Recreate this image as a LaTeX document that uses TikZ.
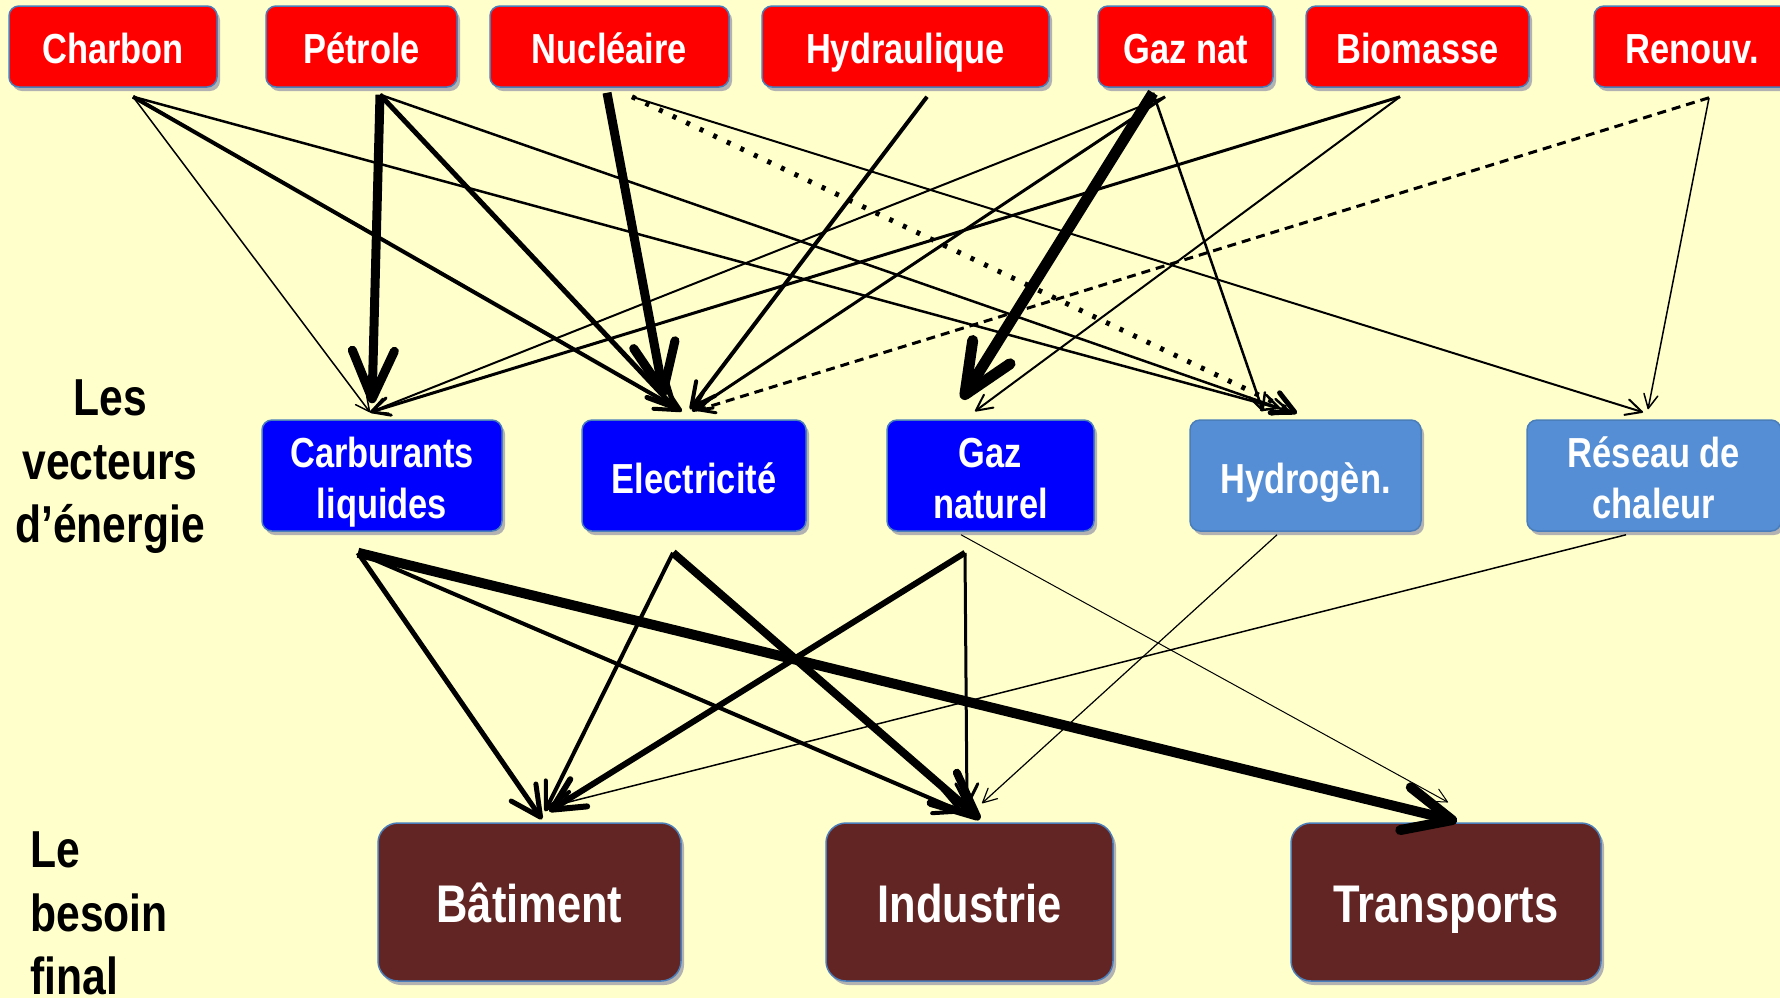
\documentclass[tikz,border=0pt]{standalone}
\usepackage{fontspec}
\setmainfont{Liberation Sans}[FakeStretch=0.82]
\usetikzlibrary{arrows.meta,calc}
\definecolor{bgyellow}{HTML}{FFFFCC}
\definecolor{srcred}{HTML}{FF0000}
\definecolor{vecblue}{HTML}{0000FF}
\definecolor{veclight}{HTML}{558ED5}
\definecolor{needbrown}{HTML}{632523}
\definecolor{edgeblue}{HTML}{4A7EBB}
\begin{document}
\begin{tikzpicture}[x=0.5pt,y=-0.5pt,
  box/.style={draw=edgeblue, line width=0.75pt, rounded corners=5pt, text=white, align=center, inner sep=0pt,
     preaction={fill=black!30, transform canvas={shift={(1.5pt,-2pt)}}}},
  src/.style={box, fill=srcred, minimum height=40.5pt, text height=16.5pt, text depth=0pt,
     font=\bfseries\fontsize{21}{25}\selectfont},
  vec/.style={box, fill=vecblue, minimum height=55.5pt, text height=17.5pt, text depth=0pt,
     font=\bfseries\fontsize{21}{25.5}\selectfont},
  vectwo/.style={text height=42.5pt, text depth=0pt},
  veclt/.style={vec, fill=veclight},
  need/.style={box, fill=needbrown, rounded corners=10pt, minimum height=79pt, text height=20pt, text depth=0pt,
     font=\bfseries\fontsize{26.5}{30}\selectfont},
  lbl/.style={font=\bfseries\fontsize{26}{31.75}\selectfont, inner sep=0pt},
  arr/.style n args={2}{line width=#1, -{Straight Barb[length=#2, width=#2, round]}},
  bigarr/.style n args={3}{line width=#1, -{Straight Barb[length=#2, width=#3, round]}},
]
\useasboundingbox (0,0) rectangle (1780,998);
\clip (0,0) rectangle (1780,998);
\fill[bgyellow] (0,0) rectangle (1780,998);

% sources
\node[src, minimum width=104pt] (charbon) at (113,46.5) {Charbon};
\node[src, minimum width=95.5pt] (petrole) at (361.5,46.5) {Pétrole};
\node[src, minimum width=119.5pt] (nucleaire) at (609.5,46.5) {Nucléaire};
\node[src, minimum width=143.5pt] (hydraulique) at (905.5,46.5) {Hydraulique};
\node[src, minimum width=87.5pt] (gaznat) at (1185.5,46.5) {Gaz nat};
\node[src, minimum width=111.5pt] (biomasse) at (1417.5,46.5) {Biomasse};
\node[src, minimum width=98pt] (renouv) at (1692,46.5) {Renouv.};

% vecteurs
\node[vec, vectwo, minimum width=120pt] (carb) at (382,475.5) {Carburants\\liquides};
\node[vec, minimum width=112pt] (elec) at (694,475.5) {Electricité};
\node[vec, vectwo, minimum width=103.5pt] (gn) at (990.5,475.5) {Gaz\\naturel};
\node[veclt, minimum width=115.5pt] (hyd) at (1305.5,475.5) {Hydrogèn.};
\node[veclt, vectwo, minimum width=127pt] (res) at (1654,475.5) {Réseau de\\chaleur};

% besoins
\node[need, minimum width=151.5pt] (bat) at (529.5,902) {Bâtiment};
\node[need, minimum width=143.5pt] (ind) at (969.5,902) {Industrie};
\node[need, minimum width=155pt] (trans) at (1446,902) {Transports};

% labels
\node[lbl, align=center] (vecteurs) at (110,467) {Les\\vecteurs\\d’énergie};
\node[lbl, align=left, anchor=west] (besoin) at (30,913.5) {Le\\besoin\\final};

% ports
\coordinate (cP) at ($(charbon.south)+(20,9)$);
\coordinate (pP) at ($(petrole.south)+(18.5,7)$);
\coordinate (nP1) at ($(nucleaire.south)+(-2.5,5)$);
\coordinate (nP2) at ($(nucleaire.south)+(22.5,9)$);
\coordinate (hP) at ($(hydraulique.south)+(21.5,9)$);
\coordinate (gP1) at ($(gaznat.south)+(-32.5,5)$);
\coordinate (gP2) at ($(gaznat.south)+(-20.5,9)$);
\coordinate (bP) at ($(biomasse.south)+(-17.5,9)$);
\coordinate (rP) at ($(renouv.south)+(17,10)$);
\coordinate (carbP) at ($(carb.south)+(-24,21)$);
\coordinate (elecP) at ($(elec.south)+(-21,21)$);
\coordinate (gnP) at ($(gn.south)+(-25.5,21)$);
\coordinate (gnP2) at ($(gn.south)+(-29.5,3)$);
\coordinate (hydP) at ($(hyd.south)+(-28.5,3)$);
\coordinate (resP) at ($(res.south)+(-28,3)$);

% Charbon
\draw[arr={0.75pt}{7pt}] (cP) -- ($(carb.north)+(-12,-7)$);
\draw[arr={2pt}{12pt}] (cP) -- ($(elec.north)+(-12,-8)$);
\draw[arr={1.25pt}{8pt}] (cP) -- ($(hyd.north)+(-15.5,-8)$);
% Petrole
\draw[bigarr={4.5pt}{24pt}{21pt}] (pP) -- ($(carb.north)+(-10,-16)$);
\draw[arr={2.5pt}{13pt}] (pP) -- ($(elec.north)+(-18,-10)$);
\draw[arr={1.25pt}{8pt}] (pP) -- ($(hyd.north)+(-25.5,-11)$);
% Nucleaire
\draw[bigarr={4.5pt}{24pt}{21pt}] (nP1) -- ($(elec.north)+(-30,-23)$);
\draw[arr={2.5pt}{11pt}, dash pattern=on 2pt off 5.5pt] (nP2) -- ($(hyd.north)+(-8.5,-6)$);
\draw[arr={1pt}{8pt}] (nP2) -- ($(res.north)+(-11,-7)$);
% Hydraulique
\draw[arr={2pt}{12pt}] (hP) -- ($(elec.north)+(-4,-10)$);
% Gaz nat
\draw[bigarr={5.5pt}{25pt}{22pt}] (gP1) -- ($(gn.north)+(-28.5,-20)$);
\draw[arr={1pt}{8pt}] (gP2) -- ($(carb.north)+(-12,-7)$);
\draw[arr={1.5pt}{9pt}] (gP2) -- ($(elec.north)+(-2,-8)$);
\draw[arr={1.25pt}{8pt}] (gP1) -- ($(hyd.north)+(-42.5,-8)$);
% Biomasse
\draw[arr={1.5pt}{9pt}] (bP) -- ($(carb.north)+(-12,-7)$);
\draw[arr={1pt}{8pt}] (bP) -- ($(gn.north)+(-15.5,-8)$);
% Renouv
\draw[arr={1.5pt}{8pt}, dash pattern=on 4.5pt off 3pt] (rP) -- ($(elec.north)+(3,-9)$);
\draw[arr={0.75pt}{7pt}] (rP) -- ($(res.north)+(-6,-10)$);

% vers besoins
\draw[arr={2.5pt}{15pt}] (carbP) -- ($(bat.north)+(12.5,-3)$);
\draw[arr={2pt}{13pt}] (carbP) -- ($(ind.north)+(-6.5,-10)$);
\draw[bigarr={5pt}{24pt}{22pt}] (carbP) -- ($(trans.north)+(11,-1)$);
\draw[arr={2pt}{13pt}] (elecP) -- ($(bat.north)+(15.5,-11)$);
\draw[bigarr={4pt}{22pt}{20pt}] (elecP) -- ($(ind.north)+(10.5,-3)$);
\draw[arr={3pt}{16pt}] (gnP) -- ($(bat.north)+(19.5,-11)$);
\draw[arr={1.5pt}{11pt}] (gnP) -- ($(ind.north)+(-2.5,-15)$);
\draw[arr={0.5pt}{7pt}] (gnP2) -- ($(trans.north)+(2,-20)$);
\draw[arr={0.6pt}{7pt}] (hydP) -- ($(ind.north)+(12.5,-19)$);
\draw[arr={0.75pt}{7pt}] (resP) -- ($(bat.north)+(26.5,-17)$);
\end{tikzpicture}
\end{document}
